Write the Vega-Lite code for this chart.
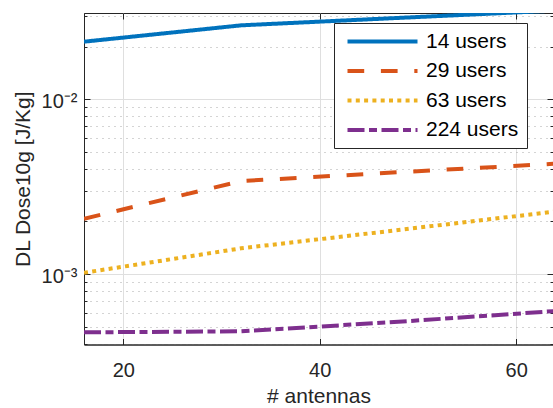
{
  "$schema": "https://vega.github.io/schema/vega-lite/v6.json",
  "width": 469,
  "height": 331.5,
  "autosize": {"type": "none"},
  "padding": {"left": 84, "top": 13, "right": 0, "bottom": 63.5},
  "background": "white",
  "config": {
    "font": "Liberation Sans",
    "view": {"stroke": "#262626", "strokeWidth": 1},
    "axis": {
      "domainColor": "#262626",
      "tickColor": "#262626",
      "labelColor": "#262626",
      "titleColor": "#262626",
      "labelFontSize": 20,
      "titleFontSize": 21,
      "titleFontWeight": "normal",
      "labelFont": "Liberation Sans",
      "titleFont": "Liberation Sans"
    }
  },
  "data": {
    "values": [
      {"antennas": 16, "dose": 0.02138, "series": "14 users"},
      {"antennas": 32, "dose": 0.02652, "series": "14 users"},
      {"antennas": 48, "dose": 0.02924, "series": "14 users"},
      {"antennas": 64, "dose": 0.0322, "series": "14 users"},
      {"antennas": 16, "dose": 0.002072, "series": "29 users"},
      {"antennas": 32, "dose": 0.003405, "series": "29 users"},
      {"antennas": 48, "dose": 0.003825, "series": "29 users"},
      {"antennas": 64, "dose": 0.00428, "series": "29 users"},
      {"antennas": 16, "dose": 0.001017, "series": "63 users"},
      {"antennas": 32, "dose": 0.001403, "series": "63 users"},
      {"antennas": 48, "dose": 0.001786, "series": "63 users"},
      {"antennas": 64, "dose": 0.00228, "series": "63 users"},
      {"antennas": 16, "dose": 0.0004637, "series": "224 users"},
      {"antennas": 32, "dose": 0.00047, "series": "224 users"},
      {"antennas": 48, "dose": 0.000533, "series": "224 users"},
      {"antennas": 64, "dose": 0.000614, "series": "224 users"}
    ]
  },
  "resolve": {"axis": {"x": "independent", "y": "independent"}},
  "layer": [
    {
      "mark": {"type": "line", "strokeWidth": 4, "clip": true, "strokeCap": "butt"},
      "encoding": {
        "x": {
          "field": "antennas",
          "type": "quantitative",
          "scale": {"domain": [16, 63.75], "nice": false, "zero": false},
          "axis": {
            "orient": "bottom",
            "values": [20, 40, 60],
            "title": "# antennas",
            "tickSize": -6,
            "labelPadding": 22,
            "titlePadding": 5,
            "grid": true,
            "gridColor": "#dfdfdf",
            "gridWidth": 1,
            "labelFlush": false
          }
        },
        "y": {
          "field": "dose",
          "type": "quantitative",
          "scale": {"type": "log", "domain": [0.000395, 0.0312], "nice": false},
          "axis": {
            "orient": "left",
            "values": [0.0004, 0.0005, 0.0006, 0.0007, 0.0008, 0.0009, 0.001, 0.002, 0.003, 0.004, 0.005, 0.006, 0.007, 0.008, 0.009, 0.01, 0.02, 0.03],
            "labelExpr": "datum.value == 0.01 ? '10⁻²' : datum.value == 0.001 ? '10⁻³' : ''",
            "title": "DL Dose10g [J/Kg]",
            "tickSize": {"condition": {"test": "datum.value == 0.01 || datum.value == 0.001", "value": -6}, "value": -3},
            "labelPadding": 13,
            "labelOffset": 2,
            "titlePadding": 8,
            "grid": true,
            "gridColor": {"condition": {"test": "datum.value == 0.01 || datum.value == 0.001", "value": "#dfdfdf"}, "value": "#a8a8a8"},
            "gridDash": {"condition": {"test": "datum.value == 0.01 || datum.value == 0.001", "value": []}, "value": [1, 5]},
            "labelOverlap": false,
            "labelFlush": false,
            "labelBound": false
          }
        },
        "color": {
          "field": "series",
          "type": "nominal",
          "scale": {
            "domain": ["14 users", "29 users", "63 users", "224 users"],
            "range": ["#0072BD", "#D95319", "#EDB120", "#7E2F8E"]
          },
          "legend": {
            "title": null,
            "orient": "none",
            "legendX": 250,
            "legendY": 10,
            "fillColor": "white",
            "strokeColor": "#262626",
            "padding": 8,
            "labelFontSize": 21,
            "labelColor": "#000000",
            "labelFont": "Liberation Sans",
            "symbolType": "M-1,0H13",
            "symbolSize": 100,
            "symbolStrokeWidth": 4,
            "labelOffset": 63,
            "rowPadding": 7.5
          }
        },
        "strokeDash": {
          "field": "series",
          "type": "nominal",
          "scale": {
            "domain": ["14 users", "29 users", "63 users", "224 users"],
            "range": [[1, 0], [16.7, 16.7], [4, 4.3], [17, 4.5, 8, 4.5]]
          },
          "legend": {
            "title": null,
            "orient": "none",
            "legendX": 250,
            "legendY": 10,
            "fillColor": "white",
            "strokeColor": "#262626",
            "padding": 8,
            "labelFontSize": 21,
            "labelColor": "#000000",
            "labelFont": "Liberation Sans",
            "symbolType": "M-1,0H13",
            "symbolSize": 100,
            "symbolStrokeWidth": 4,
            "labelOffset": 63,
            "rowPadding": 7.5
          }
        }
      }
    },
    {
      "mark": {"type": "point", "opacity": 0, "clip": true},
      "encoding": {
        "x": {
          "field": "antennas",
          "type": "quantitative",
          "axis": {
            "orient": "top",
            "values": [20, 40, 60],
            "title": null,
            "labels": false,
            "domain": false,
            "grid": false,
            "tickSize": -6
          }
        },
        "y": {
          "field": "dose",
          "type": "quantitative",
          "axis": {
            "orient": "right",
            "values": [0.0004, 0.0005, 0.0006, 0.0007, 0.0008, 0.0009, 0.001, 0.002, 0.003, 0.004, 0.005, 0.006, 0.007, 0.008, 0.009, 0.01, 0.02, 0.03],
            "title": null,
            "labels": false,
            "domain": false,
            "grid": false,
            "tickSize": {"condition": {"test": "datum.value == 0.01 || datum.value == 0.001", "value": -6}, "value": -3}
          }
        }
      }
    }
  ]
}
